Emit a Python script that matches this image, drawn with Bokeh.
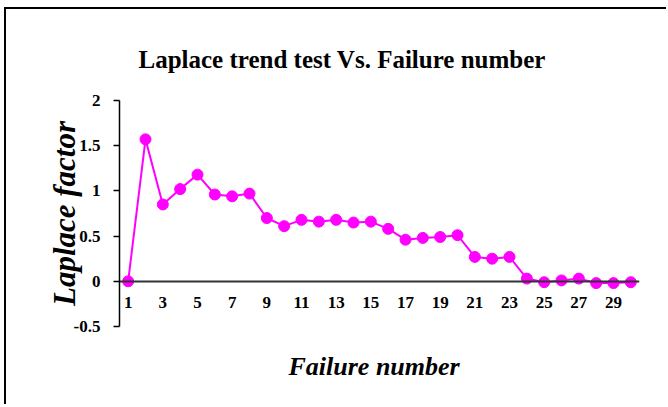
from bokeh.plotting import figure
from bokeh.models import Range1d, FixedTicker, Title, ColumnDataSource
from bokeh.embed import file_html
from bokeh.resources import INLINE

failure_number = list(range(1, 31))
laplace_factor = [0.00, 1.57, 0.85, 1.02, 1.18, 0.96, 0.94, 0.97, 0.70, 0.61,
                  0.68, 0.66, 0.68, 0.65, 0.66, 0.58, 0.46, 0.48, 0.49, 0.51,
                  0.27, 0.25, 0.27, 0.03, -0.01, 0.01, 0.03, -0.02, -0.02, -0.01]
x_ticks = [1, 3, 5, 7, 9, 11, 13, 15, 17, 19, 21, 23, 25, 27, 29]
y_ticks = [-0.5, 0, 0.5, 1, 1.5, 2]
y_tick_labels = ["-0.5", "0", "0.5", "1", "1.5", "2"]

FONT = "Liberation Serif"
COLOR = "#FF00FF"

src = ColumnDataSource(dict(x=failure_number, y=laplace_factor))

p = figure(width=662, height=397,
           x_range=Range1d(0.5, 30.5), y_range=Range1d(-0.5, 2),
           output_backend="svg", toolbar_location=None,
           min_border_left=113, min_border_right=29,
           min_border_top=91, min_border_bottom=80)

p.styles = {"margin-left": "4px", "margin-top": "7px",
            "border-left": "2px solid black", "border-top": "2px solid black"}
p.border_fill_color = "white"
p.background_fill_color = "white"

p.outline_line_color = None
p.xgrid.visible = False
p.ygrid.visible = False

p.title.text = "Laplace trend test Vs. Failure number"
p.title.text_font = FONT
p.title.text_font_style = "bold"
p.title.text_font_size = "25px"
p.title.text_color = "black"
p.title.align = "left"
p.title.offset = 19
p.title.standoff = 56

p.add_layout(Title(text="Failure number", align="left", offset=169,
                   text_font=FONT, text_font_style="bold italic",
                   text_font_size="26px", text_color="black", standoff=47),
             "below")

p.line("x", "y", source=src, line_color=COLOR, line_width=2)
p.scatter("x", "y", source=src, size=11, fill_color=COLOR, line_color=COLOR)

xa = p.xaxis[0]
xa.fixed_location = 0
xa.ticker = FixedTicker(ticks=x_ticks)
xa.major_tick_in = 0
xa.major_tick_out = 0
xa.minor_tick_line_color = None
xa.axis_line_color = "#333333"
xa.axis_line_width = 2
xa.major_label_text_font = FONT
xa.major_label_text_font_style = "bold"
xa.major_label_text_font_size = "17px"
xa.major_label_text_color = "black"
xa.major_label_standoff = 16

ya = p.yaxis[0]
ya.ticker = FixedTicker(ticks=y_ticks)
ya.major_label_overrides = {t: l for t, l in zip(y_ticks, y_tick_labels)}
ya.major_tick_in = 0
ya.major_tick_out = 6
ya.minor_tick_line_color = None
ya.axis_line_color = "black"
ya.axis_line_width = 1.5
ya.major_tick_line_width = 1.5
ya.major_label_text_font = FONT
ya.major_label_text_font_style = "bold"
ya.major_label_text_font_size = "17px"
ya.major_label_text_color = "black"
ya.major_label_standoff = 13
ya.axis_label = "Laplace factor"
ya.axis_label_text_font = FONT
ya.axis_label_text_font_style = "bold italic"
ya.axis_label_text_font_size = "31px"
ya.axis_label_text_color = "black"
ya.axis_label_standoff = -11

open("out.html", "w").write(file_html(p, INLINE))
